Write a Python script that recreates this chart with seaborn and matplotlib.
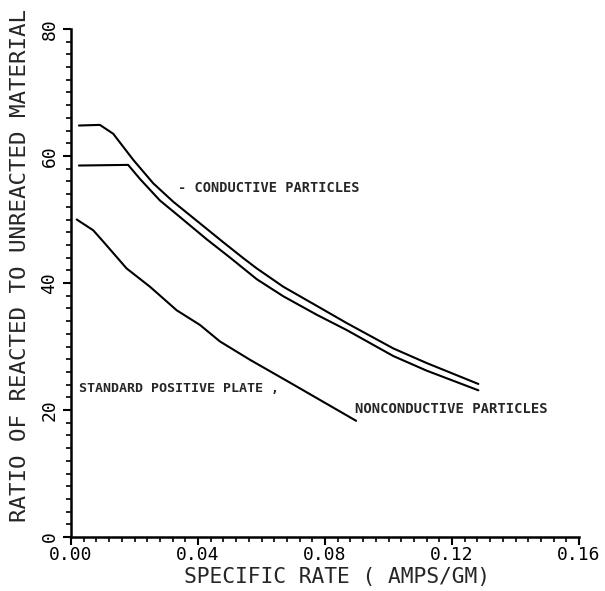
import numpy as np
import pandas as pd
import matplotlib
matplotlib.use("Agg")
import matplotlib.pyplot as plt
import seaborn as sns
from matplotlib.ticker import MultipleLocator

# Data
cond_x = [0.0025, 0.0091, 0.0133, 0.0196, 0.0259, 0.0322, 0.0406, 0.0480, 0.0543, 0.0585,
          0.0669, 0.0774, 0.0868, 0.1015, 0.1120, 0.1283]
cond_y = [64.8, 64.9, 63.5, 59.4, 55.7, 52.8, 49.4, 46.4, 43.9, 42.3,
          39.4, 36.4, 33.7, 29.7, 27.4, 24.1]

nonc_x = [0.0025, 0.0180, 0.0217, 0.0280, 0.0343, 0.0427, 0.0501, 0.0585,
          0.0669, 0.0774, 0.0868, 0.1015, 0.1120, 0.1283]
nonc_y = [58.5, 58.6, 56.4, 53.0, 50.4, 46.9, 44.0, 40.6,
          37.9, 35.0, 32.6, 28.5, 26.2, 23.1]

std_x = [0.0018, 0.0070, 0.0102, 0.0175, 0.0249, 0.0333, 0.0406, 0.0469,
         0.0564, 0.0690, 0.0898]
std_y = [50.0, 48.3, 46.5, 42.3, 39.4, 35.7, 33.4, 30.8,
         27.9, 24.3, 18.3]

x_ticks = [0.00, 0.04, 0.08, 0.12, 0.16]
x_tick_labels = ["0.00", "0.04", "0.08", "0.12", "0.16"]
y_ticks = [0, 20, 40, 60, 80]
y_tick_labels = ["0", "20", "40", "60", "80"]

df = pd.concat([
    pd.DataFrame({"x": cond_x, "y": cond_y, "s": "cond"}),
    pd.DataFrame({"x": nonc_x, "y": nonc_y, "s": "nonc"}),
    pd.DataFrame({"x": std_x, "y": std_y, "s": "std"}),
])

sns.set_style("ticks")
plt.rcParams["font.family"] = ["DejaVu Sans Mono", "DejaVu Sans"]

fig = plt.figure(figsize=(6.05, 5.91), dpi=100)
ax = fig.add_axes([71 / 605, 1 - 537 / 591, (579 - 71) / 605, (537 - 29) / 591])

sns.lineplot(data=df, x="x", y="y", units="s", estimator=None, sort=False,
             color="black", linewidth=1.5, ax=ax, legend=False)

ax.set_xlim(0, 0.16)
ax.set_ylim(0, 80)
ax.set_xticks(x_ticks)
ax.set_xticklabels(x_tick_labels)
ax.set_yticks(y_ticks)
ax.set_yticklabels(y_tick_labels, rotation=90, va="center")
ax.xaxis.set_minor_locator(MultipleLocator(0.004))
ax.yaxis.set_minor_locator(MultipleLocator(2))
ax.tick_params(which="major", direction="out", length=6, width=1.5, labelsize=13, colors="black")
ax.tick_params(axis="x", which="major", pad=0.5)
ax.tick_params(axis="y", which="major", pad=3)
ax.tick_params(which="minor", direction="out", length=3.5, width=1.2, colors="black")
for s in ["top", "right"]:
    ax.spines[s].set_visible(False)
for s in ["left", "bottom"]:
    ax.spines[s].set_linewidth(1.8)
    ax.spines[s].set_color("black")

ax.set_xlabel("SPECIFIC RATE ( AMPS/GM)", fontsize=15.3, va="center", ha="center")
ax.set_ylabel("RATIO OF REACTED TO UNREACTED MATERIAL", fontsize=16.2, va="center", ha="center")
ax.xaxis.set_label_coords((337 - 71) / 508, -(577 - 537) / 508)
ax.yaxis.set_label_coords(-(71 - 20) / 508, (537 - 265) / 508)

ax.text(0.0337, 55.0, "- CONDUCTIVE PARTICLES", fontsize=9.8, fontweight="bold", va="center", ha="left")
ax.text(0.0025, 23.4, "STANDARD POSITIVE PLATE ,", fontsize=9.6, fontweight="bold", va="center", ha="left")
ax.text(0.0895, 20.1, "NONCONDUCTIVE PARTICLES", fontsize=10, fontweight="bold", va="center", ha="left")

fig.savefig("out.png", dpi=100)
